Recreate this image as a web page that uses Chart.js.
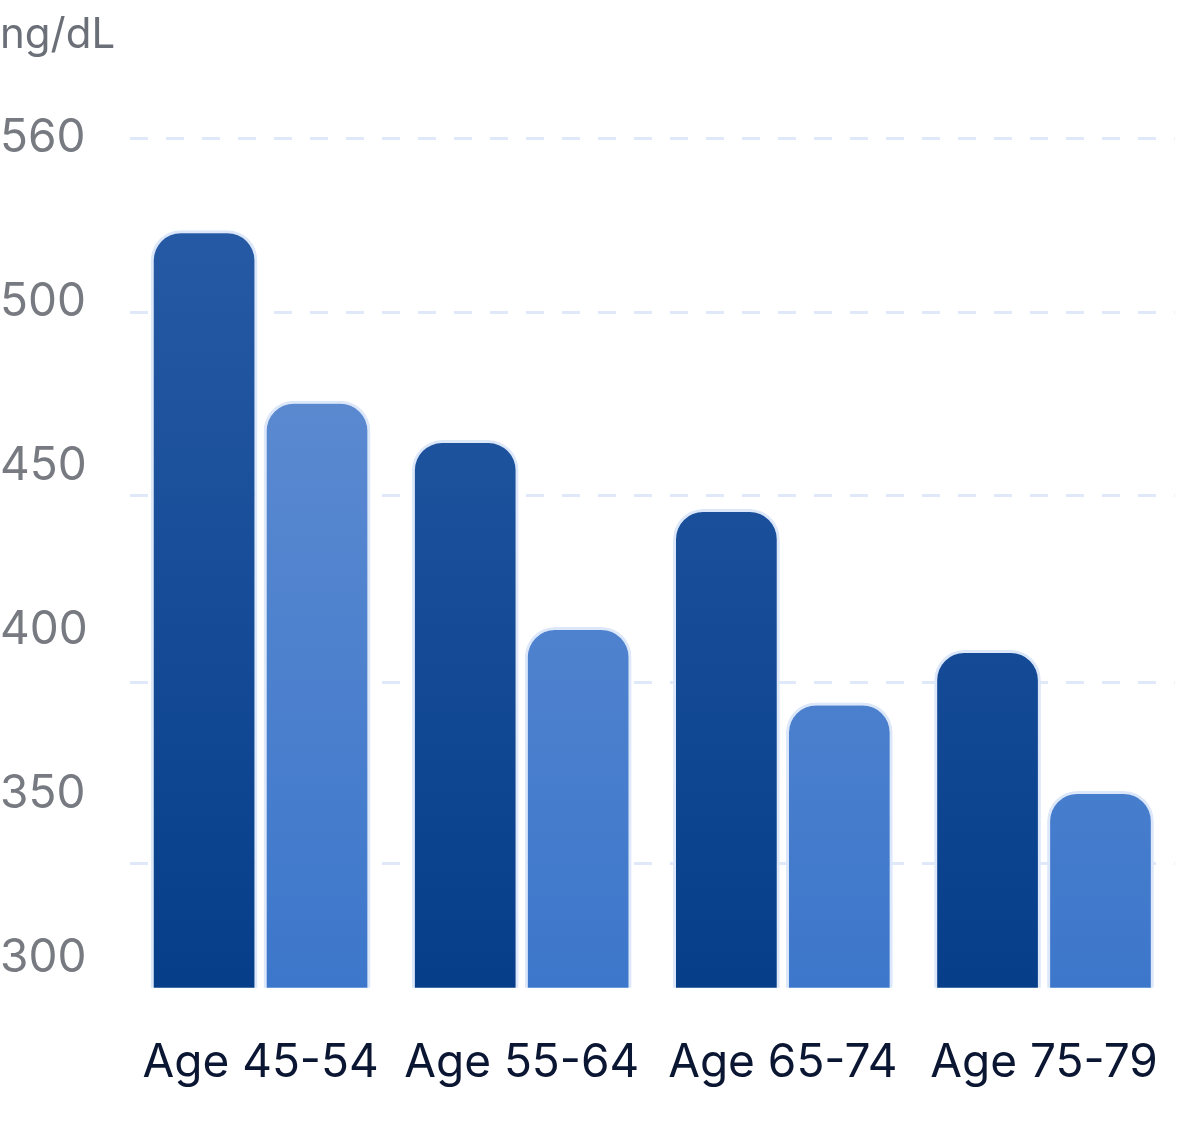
<!DOCTYPE html>
<html>
<head>
<meta charset="utf-8">
<script src="https://cdn.jsdelivr.net/npm/chart.js@4"></script>
<style>
  html, body { margin: 0; background: #fff; }
  #wrap { width: 1200px; height: 1137px; }
</style>
</head>
<body>
<div id="wrap"><canvas id="myChart"></canvas></div>
<script>
/* data */
const categories = ['Age 45-54', 'Age 55-64', 'Age 65-74', 'Age 75-79'];
const seriesA = [522, 458, 437, 394];
const seriesB = [470, 401, 378, 351];
const tickValues = [300, 350, 400, 450, 500, 550];
const tickLabels = ['300', '350', '400', '450', '500', '560'];
const gridValues = [329, 384, 441, 497, 550];

/* vertical gradient for the bars */
function grad(ctx, top, bottom) {
  const area = ctx.chart.chartArea;
  if (!area) return bottom;
  const g = ctx.chart.ctx.createLinearGradient(0, area.top, 0, area.bottom);
  g.addColorStop(0, top);
  g.addColorStop(1, bottom);
  return g;
}

const chart = new Chart(document.getElementById('myChart'), {
  type: 'bar',
  data: {
    labels: categories,
    datasets: [{
      data: seriesA,
      backgroundColor: c => grad(c, '#2a5da8', '#063e8a'),
      borderColor: '#dce8fa',
      borderWidth: 3,
      borderSkipped: 'bottom',
      borderRadius: { topLeft: 30, topRight: 30 },
      barPercentage: 0.945,
      categoryPercentage: 0.865,
    }, {
      data: seriesB,
      backgroundColor: c => grad(c, '#6791d2', '#3d77cb'),
      borderColor: '#dce8fa',
      borderWidth: 3,
      borderSkipped: 'bottom',
      borderRadius: { topLeft: 30, topRight: 30 },
      barPercentage: 0.945,
      categoryPercentage: 0.865,
    }],
  },
  options: {
    responsive: true,
    maintainAspectRatio: false,
    animation: false,
    layout: { padding: { right: 18, bottom: 6 } },
    plugins: {
      legend: { display: false },
      tooltip: { enabled: false },
      title: {
        display: true,
        text: 'ng/dL',
        align: 'start',
        color: '#6b6f78',
        font: { family: 'Inter', size: 42, weight: 'normal' },
        padding: { top: 10, bottom: 78 },
      },
    },
    scales: {
      x: {
        grid: { display: false },
        border: { display: false },
        ticks: { color: '#0b1633', font: { family: 'Inter', size: 46 }, padding: 40 },
      },
      y: {
        min: 291,
        max: 550,
        afterBuildTicks: axis => { axis.ticks = tickValues.map(v => ({ value: v })); },
        afterFit: axis => { axis.width = 130; },
        ticks: {
          color: '#777a80',
          font: { family: 'Inter', size: 46 },
          crossAlign: 'far',
          padding: 4,
          callback: (v, i) => tickLabels[i],
        },
        grid: { display: false },
        border: { display: false },
      },
      y2: {
        position: 'left',
        display: true,
        min: 291,
        max: 550,
        afterBuildTicks: axis => { axis.ticks = gridValues.map(v => ({ value: v })); },
        ticks: { display: false },
        afterFit: axis => { axis.width = 0; },
        grid: { color: '#dfe9f9', lineWidth: 3, drawTicks: false },
        border: { display: false, dash: [18, 18] },
      },
    },
  },
});
</script>
</body>
</html>
